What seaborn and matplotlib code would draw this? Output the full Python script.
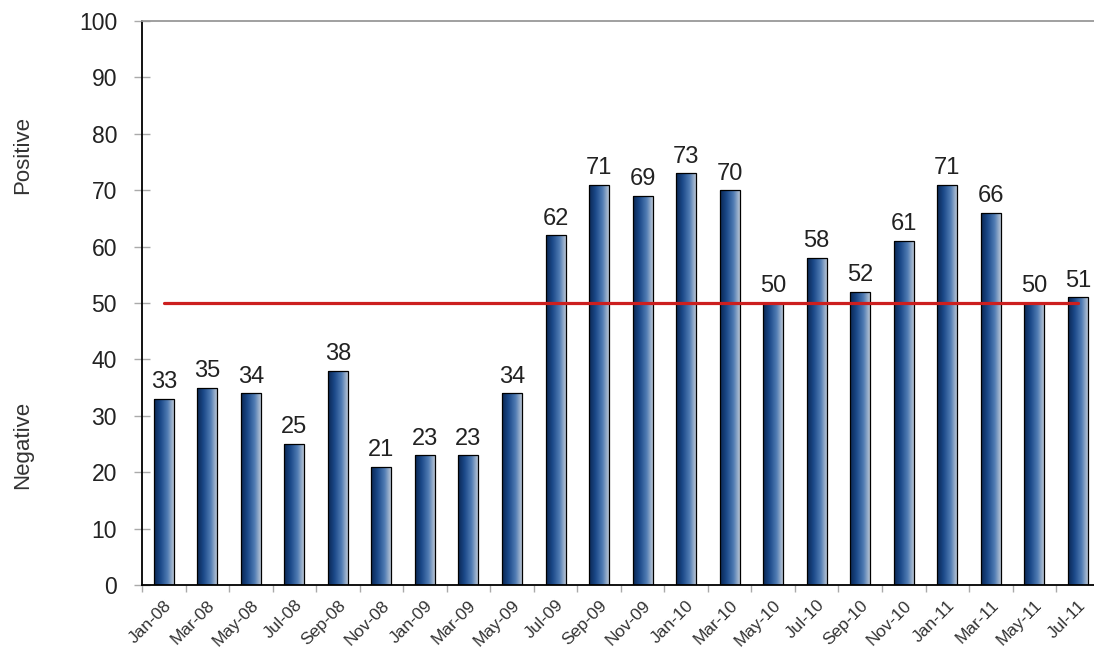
import numpy as np
import pandas as pd
import matplotlib
matplotlib.use("Agg")
import matplotlib.pyplot as plt
from matplotlib.colors import LinearSegmentedColormap
import seaborn as sns

# Datos.
meses = ["Jan-08", "Mar-08", "May-08", "Jul-08", "Sep-08", "Nov-08",
         "Jan-09", "Mar-09", "May-09", "Jul-09", "Sep-09", "Nov-09",
         "Jan-10", "Mar-10", "May-10", "Jul-10", "Sep-10", "Nov-10",
         "Jan-11", "Mar-11", "May-11", "Jul-11"]
valores = [33, 35, 34, 25, 38, 21, 23, 23, 34, 62, 71, 69,
           73, 70, 50, 58, 52, 61, 71, 66, 50, 51]
umbral = 50
y_ticks = list(range(0, 101, 10))

sns.set_theme(style="white")
plt.rcParams["font.family"] = ["Liberation Sans", "DejaVu Sans"]

df = pd.DataFrame({"mes": meses, "valor": valores})

fig = plt.figure(figsize=(10.94, 6.52), dpi=100)
ax = fig.add_axes([0.1298, 0.1028, 0.8702, 0.8650])

sns.barplot(data=df, x="mes", y="valor", color="#1d4f91", width=0.46,
            edgecolor="black", linewidth=0.9, ax=ax, zorder=2)

# Degradado horizontal en cada barra (oscuro a la izquierda, claro a la derecha).
cmap = LinearSegmentedColormap.from_list(
    "barra", [(0.0, "#0b2753"), (0.3, "#1a4888"), (0.65, "#4f7bb3"), (1.0, "#c8d0da")])
grad = np.linspace(0, 1, 64).reshape(1, -1)
for p in ax.patches:
    x0, y0 = p.get_x(), p.get_y()
    w, h = p.get_width(), p.get_height()
    im = ax.imshow(grad, cmap=cmap, aspect="auto", extent=[x0, x0 + w, y0, y0 + h],
                   zorder=2.5, interpolation="bicubic")
    im.set_clip_path(p)
    p.set_facecolor("none")
    p.set_zorder(3)

# Etiquetas de valor sobre cada barra.
for i, v in enumerate(valores):
    ax.text(i, v + 1.0, str(v), ha="center", va="bottom", fontsize=17, color="#222222", zorder=4)

# Linea roja en 50.
sns.lineplot(x=[0, len(meses) - 1], y=[umbral, umbral], color="#cc1f1f",
             linewidth=2.3, ax=ax, zorder=5)

ax.set_xlim(-0.5, 21.37)
ax.set_ylim(0, 100)
ax.set_yticks(y_ticks)
ax.set_yticklabels([str(t) for t in y_ticks], fontsize=16.5, color="#222222")
ax.tick_params(axis="y", direction="inout", length=12, width=1, color="#aaaaaa", pad=12, left=True)

ax.set_xticks(range(len(meses)))
ax.set_xticklabels(meses, rotation=45, ha="right", rotation_mode="anchor",
                   fontsize=12.5, color="#333333")
ax.tick_params(axis="x", which="major", length=0, pad=9)
ax.set_xticks(np.arange(-0.5, len(meses) - 0.5, 1), minor=True)
ax.tick_params(axis="x", which="minor", direction="out", length=5, width=1, color="#aaaaaa", bottom=True)

ax.set_xlabel("")
ax.set_ylabel("")

for lado in ["left", "bottom"]:
    ax.spines[lado].set_color("black")
    ax.spines[lado].set_linewidth(1.3)
ax.spines["top"].set_color("#999999")
ax.spines["top"].set_linewidth(1.3)
ax.spines["right"].set_visible(False)

fig.text(0.021, 1 - 155 / 652, "Positive", rotation=90, ha="center", va="center", fontsize=16, color="#333333")
fig.text(0.021, 1 - 445 / 652, "Negative", rotation=90, ha="center", va="center", fontsize=16, color="#333333")

fig.savefig("out.png", dpi=100)
